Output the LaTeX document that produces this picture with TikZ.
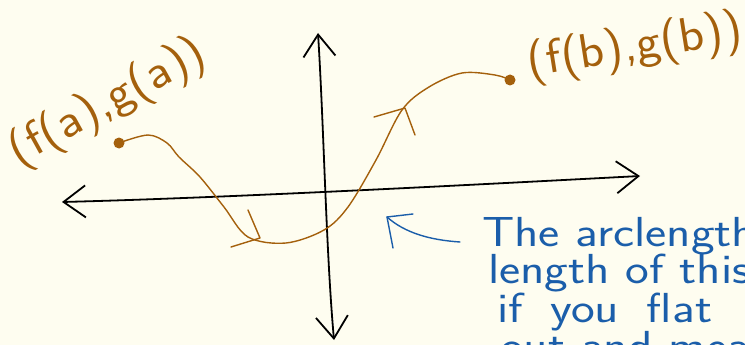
\documentclass[tikz,border=0pt]{standalone}
\usepackage{fontspec}
\usetikzlibrary{arrows.meta}
\definecolor{paper}{HTML}{FEFDF0}
\definecolor{ink}{HTML}{A4600C}
\definecolor{pen}{HTML}{1B5EAA}

\begin{document}
\begin{tikzpicture}[x=1pt,y=-1pt,
    axis/.style={line width=1.8pt,line cap=round},
    barbs/.style={{Straight Barb[length=22pt,width=32pt]}-{Straight Barb[length=22pt,width=32pt]}},
    trace/.style={line width=1.4pt,ink,line cap=round,line join=round},
    dot/.style={circle,fill=ink,inner sep=0pt,minimum size=11pt},
    point/.style={text=ink,font=\sffamily\fontsize{48}{48}\selectfont,inner sep=0pt},
    note/.style={text=pen,font=\sffamily\fontsize{42}{42}\selectfont,anchor=base west,inner sep=0pt}
]
\useasboundingbox (0,0) rectangle (745,345);
\fill[paper] (0,0) rectangle (745,345);
\clip (0,0) rectangle (745,345);

% axes
\coordinate (xleft) at (62,202);
\coordinate (xright) at (640,176);
\coordinate (ytop) at (318,33);
\coordinate (ybot) at (334,340);
\draw[axis,barbs] (xleft) .. controls (220,198) and (450,186) .. (xright);
\draw[axis,barbs] (ytop) .. controls (324,130) and (326,250) .. (ybot);

% the curve
\node[dot] (start) at (119,143) {};
\node[dot] (finish) at (510,80) {};
\draw[trace] plot[smooth,tension=0.55] coordinates {(start.center) (148,135) (167,143)
  (179,157) (200,177) (224,207) (248,237) (286,243) (324,230) (348,207) (376,160)
  (402,110) (429,87) (462,73) (495,75) (finish.center)};

% direction marks on the curve
\coordinate (tipa) at (260,238);
\coordinate (tipb) at (405,108);
\draw[trace] (231,247) -- (tipa) -- (248,210);
\draw[trace] (374,117) -- (tipb) -- (415,135);

\node[point,rotate=29,xscale=1.1] (labela) at (108,103) {(f(a),g(a))};
\node[point,rotate=9,xscale=1.08] (labelb) at (635,48) {(f(b),g(b))};

% note
\coordinate (tipc) at (387,217);
\coordinate (tail) at (460,242);
\draw[line width=1.4pt,pen,line cap=round,line join=round]
  (413,214) -- (tipc) -- (393,248);
\draw[line width=1.4pt,pen,line cap=round] (tipc) .. controls (405,233) and (430,240) .. (tail);
\node[note,xscale=1.2] (line1) at (482,246) {The arclength};
\node[note,xscale=1.2] (line2) at (488,283) {length of this};
\node[note,xscale=1.2] (line3) at (497,322) {if\hspace{0.55em}you\hspace{0.55em}flat};
\node[note,xscale=1.2] (line4) at (500,360) {out and mea};
\end{tikzpicture}
\end{document}
